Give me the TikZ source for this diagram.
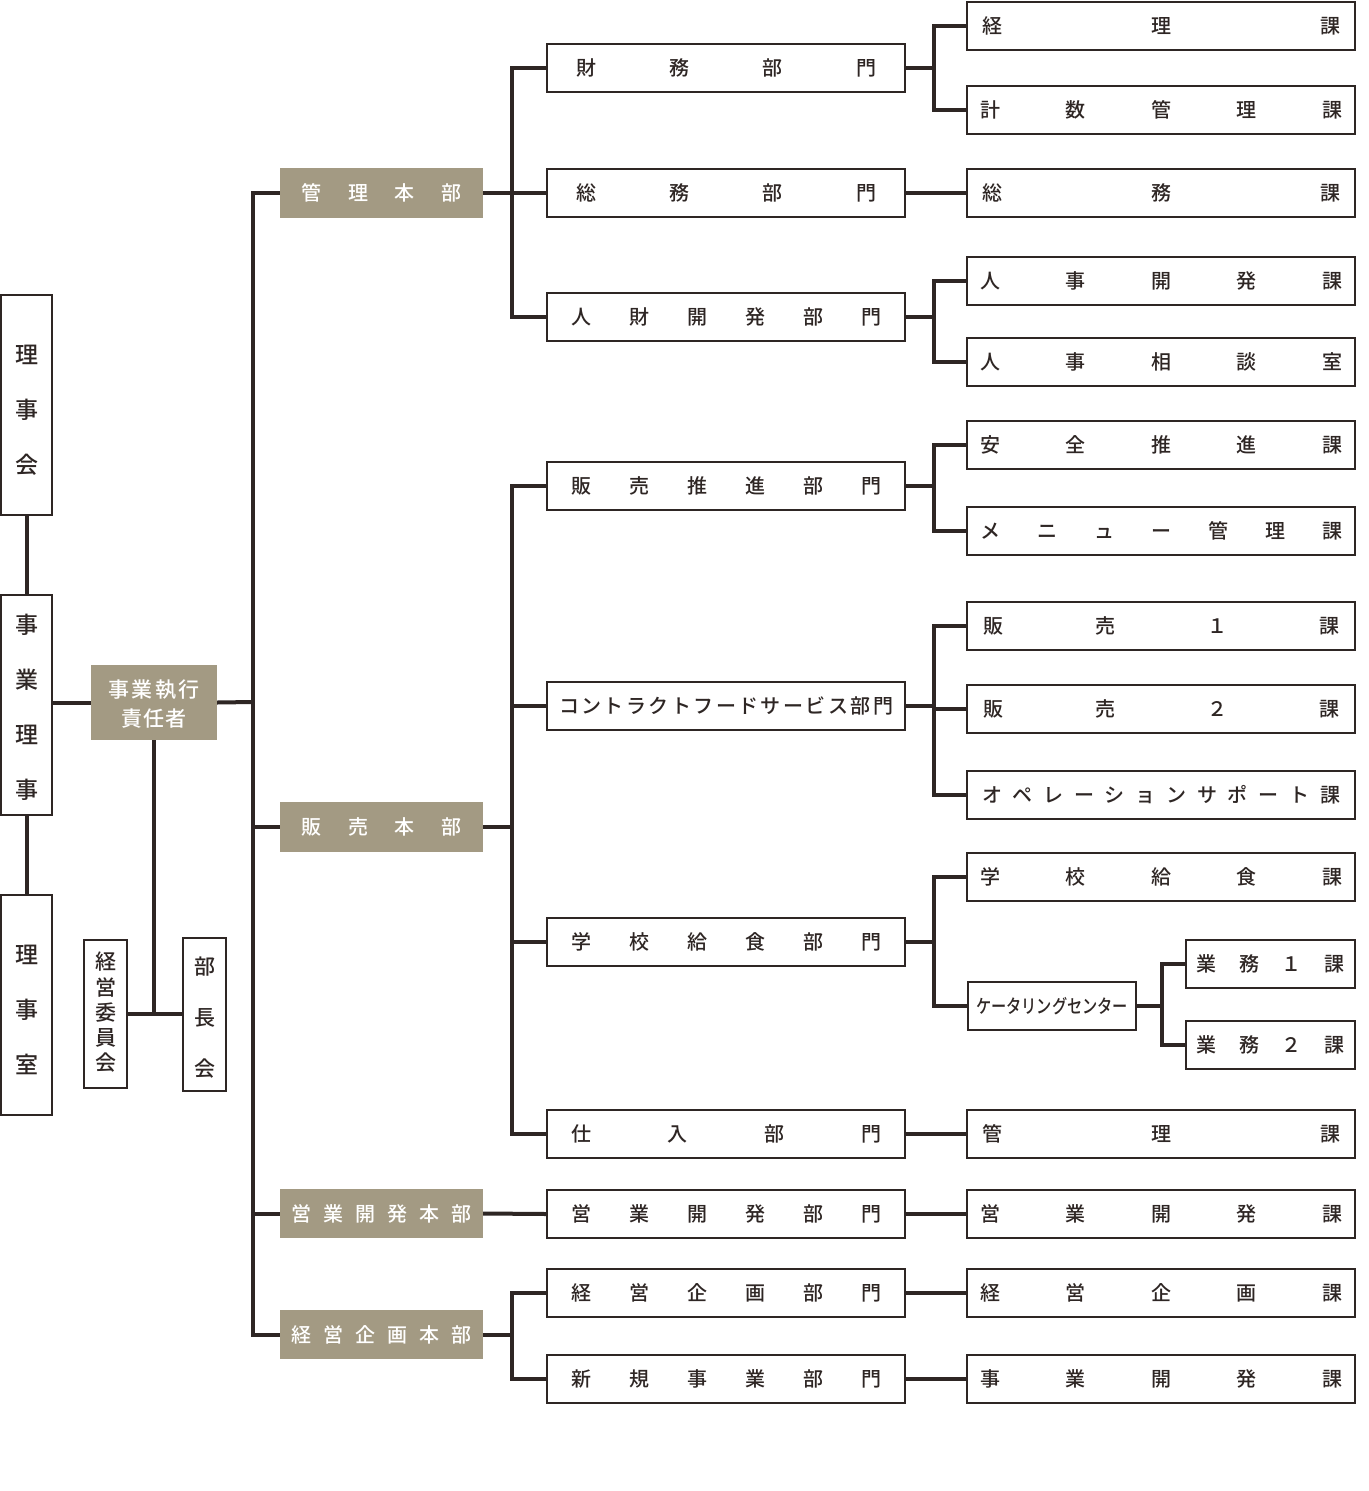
\documentclass[tikz,border=0pt]{standalone}
\usepackage{fontspec}
\setmainfont{Noto Sans CJK JP}[UprightFont={* Medium}]
\usepackage{graphicx}
\definecolor{ln}{HTML}{2E2624}
\definecolor{bf}{HTML}{A39A83}
\def\myspreadA#1{\ifx#1\relax\else#1\expandafter\myspreadB\fi}
\def\myspreadB#1{\ifx#1\relax\else\hfill#1\expandafter\myspreadB\fi}
\newcommand\myspread[2]{\makebox[#1pt][s]{\myspreadA#2\relax}}
\newcommand\mystack[2]{\raisebox{#1pt}[\height][\depth]{\begin{tabular}{@{}c@{}}#2\end{tabular}}}
\newcommand\bx[7]{\node[#1, minimum width={#5-#3}, minimum height={#6-#4}] (#2) at ({(#3+#5)/2},{(#4+#6)/2}) {#7};}
\tikzset{
  wbox/.style={draw=ln, line width=2pt, fill=white, inner sep=0pt, text=ln, font=\fontsize{20}{24}\selectfont},
  gbox/.style={fill=bf, inner sep=0pt, text=white, font=\fontsize{20}{24}\selectfont},
  conn/.style={draw=ln, line width=4pt},
}
\begin{document}
\begin{tikzpicture}[x=1pt,y=-1pt]
\fill[white] (0,0) rectangle (1368,1491);
\useasboundingbox (0,0) rectangle (1368,1491);
% left column
\bx{wbox,font=\fontsize{23}{55}\selectfont}{rijikai}{1}{295}{52}{515}{\mystack{-2}{理\\事\\会}}
\bx{wbox,font=\fontsize{23}{55}\selectfont}{jigyoriji}{1}{595}{52}{815}{\mystack{0}{事\\業\\理\\事}}
\bx{wbox,font=\fontsize{23}{55}\selectfont}{rijishitsu}{1}{895}{52}{1115}{\mystack{-2}{理\\事\\室}}
\bx{gbox,font=\fontsize{21}{29}\selectfont}{sekinin}{91}{665}{217}{740}{\mystack{-4}{\myspread{91}{事業執行}\\\myspread{66}{責任者}}}
\bx{wbox,font=\fontsize{21}{25}\selectfont}{iinkai}{84}{940}{127}{1088}{\mystack{-1}{経\\営\\委\\員\\会}}
\bx{wbox,font=\fontsize{21}{51}\selectfont}{buchokai}{183}{940}{226}{1088}{\mystack{-1}{部\\長\\会}}
% honbu
\bx{gbox}{kanri}{280}{168}{483}{218}{\myspread{160}{管理本部}}
\bx{gbox}{hanbai}{280}{802}{483}{852}{\myspread{160}{販売本部}}
\bx{gbox}{eigyo}{280}{1189}{483}{1238}{\myspread{180}{営業開発本部}}
\bx{gbox}{keikaku}{280}{1310}{483}{1359}{\myspread{180}{経営企画本部}}
% bumon
\bx{wbox}{zaimu}{547}{44}{905}{92}{\myspread{300}{財務部門}}
\bx{wbox}{somu}{547}{169}{905}{217}{\myspread{300}{総務部門}}
\bx{wbox}{jinzai}{547}{293}{905}{341}{\myspread{310}{人財開発部門}}
\bx{wbox}{suishin}{547}{462}{905}{510}{\myspread{310}{販売推進部門}}
\bx{wbox}{contract}{547}{682}{905}{730}{\myspread{334}{コントラクトフードサービス部門}}
\bx{wbox}{gakko}{547}{918}{905}{966}{\myspread{310}{学校給食部門}}
\bx{wbox}{shiire}{547}{1110}{905}{1158}{\myspread{310}{仕入部門}}
\bx{wbox}{eigyobu}{547}{1190}{905}{1238}{\myspread{310}{営業開発部門}}
\bx{wbox}{keieibu}{547}{1269}{905}{1317}{\myspread{310}{経営企画部門}}
\bx{wbox}{shinki}{547}{1355}{905}{1403}{\myspread{310}{新規事業部門}}
% ka
\bx{wbox}{keiri}{967}{2}{1355}{50}{\myspread{358}{経理課}}
\bx{wbox}{keisu}{967}{86}{1355}{134}{\myspread{362}{計数管理課}}
\bx{wbox}{somuka}{967}{169}{1355}{217}{\myspread{358}{総務課}}
\bx{wbox}{jinjika}{967}{257}{1355}{305}{\myspread{362}{人事開発課}}
\bx{wbox}{sodan}{967}{338}{1355}{386}{\myspread{362}{人事相談室}}
\bx{wbox}{anzen}{967}{421}{1355}{469}{\myspread{362}{安全推進課}}
\bx{wbox}{menu}{967}{507}{1355}{555}{\myspread{362}{メニュー管理課}}
\bx{wbox}{hanA}{967}{602}{1355}{650}{\myspread{356}{販売１課}}
\bx{wbox}{hanB}{967}{685}{1355}{733}{\myspread{356}{販売２課}}
\bx{wbox}{ope}{967}{771}{1355}{819}{\myspread{358}{オペレーションサポート課}}
\bx{wbox}{gakkoka}{967}{853}{1355}{901}{\myspread{362}{学校給食課}}
\bx{wbox}{catering}{968}{982}{1136}{1030}{\scalebox{0.8}[1]{\fontsize{19}{22}\selectfont ケータリングセンター}}
\bx{wbox}{gyomuA}{1186}{940}{1355}{988}{\myspread{148}{業務１課}}
\bx{wbox}{gyomuB}{1186}{1021}{1355}{1069}{\myspread{148}{業務２課}}
\bx{wbox}{kanrika}{967}{1110}{1355}{1158}{\myspread{358}{管理課}}
\bx{wbox}{eigyoka}{967}{1190}{1355}{1238}{\myspread{362}{営業開発課}}
\bx{wbox}{keikakuka}{967}{1269}{1355}{1317}{\myspread{362}{経営企画課}}
\bx{wbox}{jigyoka}{967}{1355}{1355}{1403}{\myspread{362}{事業開発課}}
% connectors left
\draw[conn] (rijikai.south) -- (jigyoriji.north);
\draw[conn] (jigyoriji.south) -- (rijishitsu.north);
\draw[conn] (jigyoriji.east |- sekinin.west) -- (sekinin.west);
\coordinate (T) at (253,702);
\draw[conn] (sekinin.east) -- (T);
\draw[conn] (kanri.west) -- ++(-27,0) |- (keikaku.west);
\draw[conn] (hanbai.west) -- ++(-27,0);
\draw[conn] (eigyo.west) -- ++(-27,0);
\draw[conn] (sekinin.south) |- (iinkai.east);
\draw[conn] (sekinin.south) |- (buchokai.west);
% kanri
\draw[conn] (zaimu.west) -- ++(-34,0) |- (jinzai.west);
\draw[conn] (kanri.east) -- (somu.west);
\draw[conn] (keiri.west) -- ++(-32,0) |- (keisu.west);
\draw[conn] (zaimu.east) -- ++(30,0);
\draw[conn] (somu.east) -- (somuka.west);
\draw[conn] (jinjika.west) -- ++(-32,0) |- (sodan.west);
\draw[conn] (jinzai.east) -- ++(30,0);
% hanbai
\draw[conn] (suishin.west) -- ++(-34,0) |- (shiire.west);
\draw[conn] (contract.west) -- ++(-34,0);
\draw[conn] (gakko.west) -- ++(-34,0);
\draw[conn] (hanbai.east) -- ++(30,0);
\draw[conn] (anzen.west) -- ++(-32,0) |- (menu.west);
\draw[conn] (suishin.east) -- ++(30,0);
\draw[conn] (hanA.west) -- ++(-32,0) |- (ope.west);
\draw[conn] (hanB.west) -- ++(-32,0);
\draw[conn] (contract.east) -- ++(30,0);
\draw[conn] (gakkoka.west) -- ++(-32,0) |- (catering.west);
\draw[conn] (gakko.east) -- ++(30,0);
\draw[conn] (gyomuA.west) -- ++(-23,0) |- (gyomuB.west);
\draw[conn] (catering.east) -- ++(27,0);
\draw[conn] (shiire.east) -- (kanrika.west);
% eigyo
\draw[conn] (eigyo.east) -- (eigyobu.west);
\draw[conn] (eigyobu.east) -- (eigyoka.west);
% keikaku
\draw[conn] (keieibu.west) -- ++(-34,0) |- (shinki.west);
\draw[conn] (keikaku.east) -- ++(30,0);
\draw[conn] (keieibu.east) -- (keikakuka.west);
\draw[conn] (shinki.east) -- (jigyoka.west);
\end{tikzpicture}
\end{document}
